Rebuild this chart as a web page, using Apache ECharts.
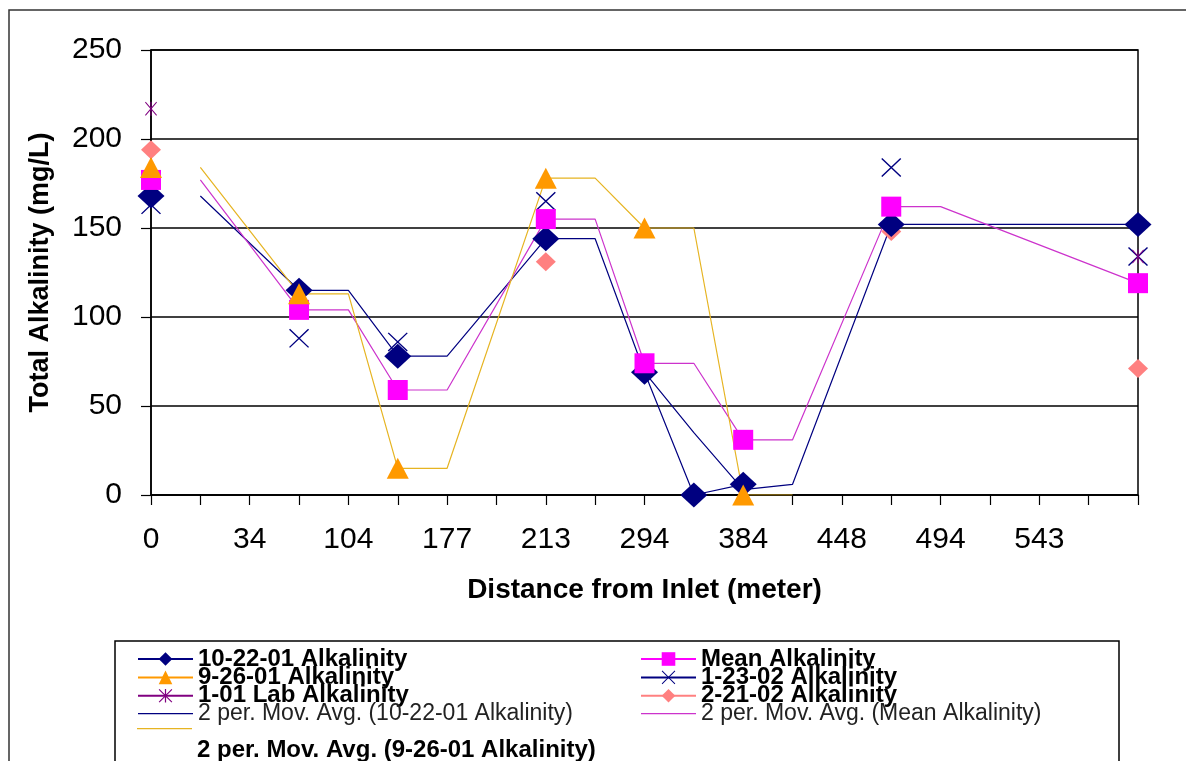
<!DOCTYPE html>
<html>
<head>
<meta charset="utf-8">
<script src="https://cdn.jsdelivr.net/npm/echarts@6/dist/echarts.min.js"></script>
<style>
  html, body { margin: 0; padding: 0; background: #fff; }
  #chart { width: 1186px; height: 761px; }
</style>
</head>
<body>
<div id="chart"></div>
<script>
// Distance stations along the wetland (blank entries are unlabeled stations)
const distanceLabels = ['0', '', '34', '', '104', '', '177', '', '213', '', '294', '', '384', '', '448', '', '494', '', '543', '', ''];

// Total alkalinity (mg/L) per sampling date; null = not sampled
const alk102201 = [168, null, null, 115, null, 78, null, null, 144, null, 69, 0, 6, null, null, 152, null, null, null, null, 152];
const alk092601 = [184, null, null, 113, null, 15, null, null, 178, null, 150, null, 0, null, null, null, null, null, null, null, null];
const alk0101Lab = [217, null, null, null, null, null, null, null, null, null, null, null, null, null, null, null, null, null, null, null, 134];
const alkMean = [177, null, null, 104, null, 59, null, null, 155, null, 74, null, 31, null, null, 162, null, null, null, null, 119];
const alk012302 = [163, null, null, 88, null, 86, null, null, 165, null, null, null, null, null, null, 184, null, null, null, null, 134];
const alk022102 = [194, null, null, null, null, null, null, null, 131, null, null, null, null, null, null, 148, null, null, null, null, 71];

// 2-period moving-average trendlines
const movAvg102201 = [null, 168, null, 115, 115, 78, 78, null, 144, 144, 69, 35, 3, 6, null, 152, 152, null, null, null, 152];
const movAvg092601 = [null, 184, null, 113, 113, 15, 15, null, 178, 178, 150, 150, 0, 0, null, null, null, null, null, null, null];
const movAvgMean = [null, 177, null, 104, 104, 59, 59, null, 155, 155, 74, 74, 31, 31, null, 162, 162, null, null, null, 119];

const FONT = '"Liberation Sans", Arial, sans-serif';
const X_SYMBOL = 'path://M0,0.5L0.5,0L10,9.5L9.5,10ZM9.5,0L10,0.5L0.5,10L0,9.5Z';
const STAR_SYMBOL = 'path://M0,0.6L0.6,0L10,9.4L9.4,10ZM9.4,0L10,0.6L0.6,10L0,9.4ZM4.55,0L5.45,0L5.45,10L4.55,10Z';
const LINE_ICON = 'path://M0,0L55,0L55,1.2L0,1.2Z';

const N = {
  d1022: '10-22-01 Alkalinity',
  mean: 'Mean Alkalinity',
  d0926: '9-26-01 Alkalinity',
  d0123: '1-23-02 Alkalinity',
  lab: '1-01 Lab Alkalinity',
  d0221: '2-21-02 Alkalinity',
  ma1022: '2 per. Mov. Avg. (10-22-01 Alkalinity)',
  maMean: '2 per. Mov. Avg. (Mean Alkalinity)',
  ma0926: '2 per. Mov. Avg. (9-26-01 Alkalinity)'
};
const thinNames = new Set([N.ma1022, N.maMean]);
const trendNames = new Set([N.ma1022, N.maMean, N.ma0926]);

function markerSeries(name, data, symbol, size, color, lineWidth) {
  return {
    name, type: 'line', data,
    symbol, symbolSize: size, showAllSymbol: true,
    connectNulls: false,
    itemStyle: { color },
    lineStyle: { color, width: lineWidth || 1 },
    emphasis: { disabled: true }
  };
}
function trendSeries(name, data, color) {
  return {
    name, type: 'line', data,
    symbol: 'none', connectNulls: true,
    itemStyle: { color },
    lineStyle: { color, width: 1.2 },
    emphasis: { disabled: true }
  };
}

const legendText = {
  fontFamily: FONT,
  fontSize: 24,
  rich: {
    b: { fontFamily: FONT, fontSize: 24, fontWeight: 'bold', color: '#000' },
    n: { fontFamily: FONT, fontSize: 23, fontWeight: 'normal', color: '#222' },
    low: { fontFamily: FONT, fontSize: 24, fontWeight: 'bold', color: '#000', padding: [44, 0, 0, 0] }
  }
};
function legendBox(left, top, names, style) {
  return {
    orient: 'vertical', left, top,
    data: names.map(n => trendNames.has(n) ? { name: n, icon: LINE_ICON } : n),
    itemWidth: 55, itemHeight: 17, itemGap: -5.6, padding: 0,
    symbolKeepAspect: true,
    selectedMode: false,
    textStyle: legendText,
    formatter: name => '{' + (style || (thinNames.has(name) ? 'n' : 'b')) + '|' + name + '}'
  };
}

const chart = echarts.init(document.getElementById('chart'), null, { renderer: 'canvas' });
chart.setOption({
  animation: false,
  backgroundColor: '#fff',
  textStyle: { fontFamily: FONT },
  grid: {
    left: 151, right: 48, top: 50, bottom: 266,
    show: true, borderColor: '#000', borderWidth: 1.5, backgroundColor: '#fff'
  },
  xAxis: {
    type: 'category',
    data: distanceLabels,
    boundaryGap: false,
    name: 'Distance from Inlet (meter)',
    nameLocation: 'middle',
    nameGap: 81,
    nameTextStyle: { fontFamily: FONT, fontSize: 28, fontWeight: 'bold', color: '#000' },
    axisLine: { lineStyle: { color: '#000', width: 1.5 } },
    axisTick: { show: true, interval: 0, length: 10, lineStyle: { color: '#000', width: 1.2 } },
    axisLabel: { interval: 0, margin: 30, fontSize: 30, color: '#000', fontFamily: FONT },
    splitLine: { show: false }
  },
  yAxis: {
    type: 'value',
    min: 0, max: 250, interval: 50,
    name: 'Total Alkalinity (mg/L)',
    nameLocation: 'middle',
    nameGap: 97,
    nameTextStyle: { fontFamily: FONT, fontSize: 27, fontWeight: 'bold', color: '#000' },
    axisLine: { show: true, lineStyle: { color: '#000', width: 1.5 } },
    axisTick: { show: true, length: 10, lineStyle: { color: '#000', width: 1.2 } },
    axisLabel: { margin: 29, fontSize: 30, color: '#000', fontFamily: FONT },
    splitLine: { show: true, lineStyle: { color: '#000', width: 1.5 } }
  },
  legend: [
    legendBox(137, 647, [N.d1022, N.d0926, N.lab, N.ma1022]),
    legendBox(137, 728, [N.ma0926], 'low'),
    legendBox(640, 647, [N.mean, N.d0123, N.d0221, N.maMean])
  ],
  graphic: [
    { type: 'rect', silent: true, z: 100, shape: { x: 9, y: 10, width: 1200, height: 800 },
      style: { fill: 'none', stroke: '#333', lineWidth: 1.5 } },
    { type: 'rect', silent: true, z: 100, shape: { x: 115, y: 641, width: 1004, height: 200 },
      style: { fill: 'none', stroke: '#000', lineWidth: 1.5 } }
  ],
  series: [
    markerSeries(N.d0221, alk022102, 'diamond', [20, 19], '#ff8080'),
    markerSeries(N.d0123, alk012302, X_SYMBOL, [20, 19], '#000080'),
    markerSeries(N.lab, alk0101Lab, STAR_SYMBOL, [12, 14], '#800080'),
    markerSeries(N.d1022, alk102201, 'diamond', [27, 25], '#000080', 1.2),
    markerSeries(N.mean, alkMean, 'rect', [20, 20], '#ff00ff'),
    markerSeries(N.d0926, alk092601, 'triangle', [22, 21], '#ff9900'),
    trendSeries(N.ma1022, movAvg102201, '#000080'),
    trendSeries(N.maMean, movAvgMean, '#cc33cc'),
    trendSeries(N.ma0926, movAvg092601, '#e6b422')
  ]
});
</script>
</body>
</html>
